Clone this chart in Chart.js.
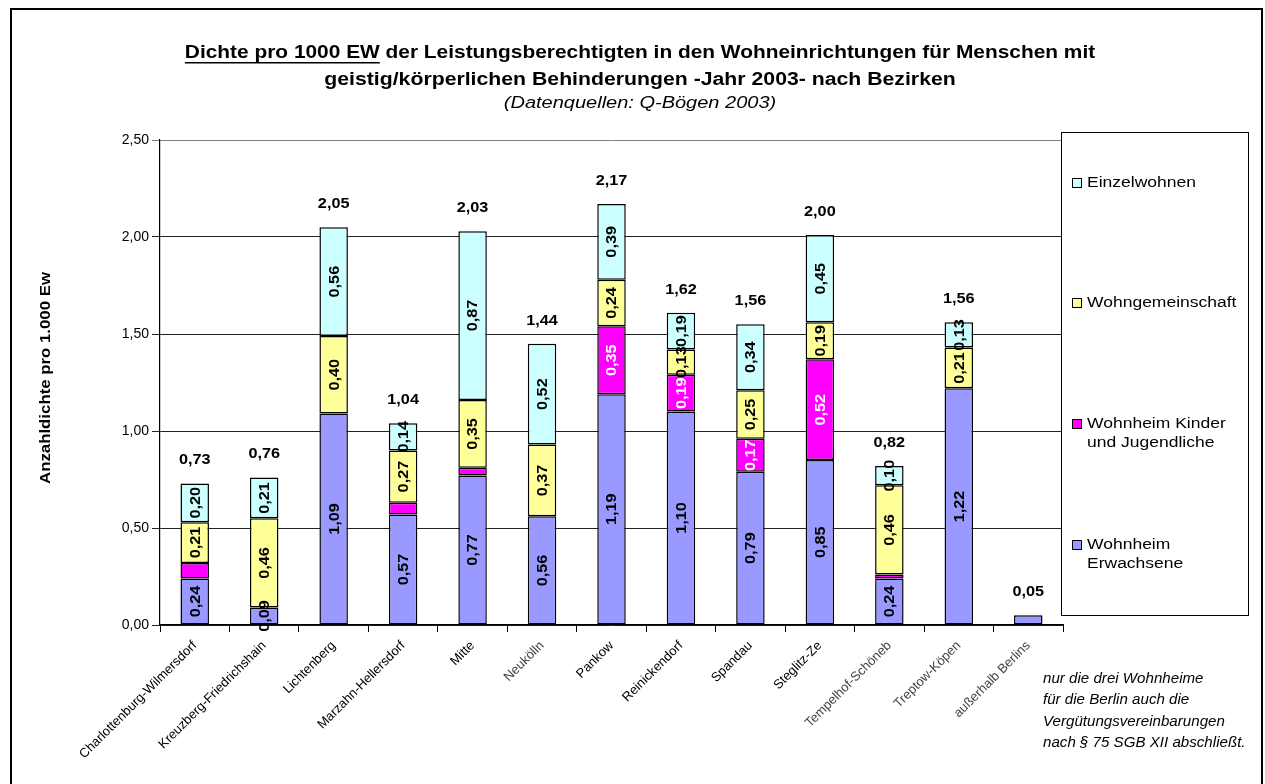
<!DOCTYPE html>
<html>
<head>
<meta charset="utf-8">
<script src="https://cdn.jsdelivr.net/npm/chart.js@4.4.1/dist/chart.umd.min.js"></script>
<style>
  html, body { margin: 0; padding: 0; background: #fff; }
</style>
</head>
<body>
<canvas id="grafik" width="1265" height="784"></canvas>
<script>
// Bezirke (Beschriftungen wie im Original abgeschnitten)
const bezirke = ["Charlottenburg-Wilmersdorf", "Kreuzberg-Friedrichshain", "Lichtenberg", "Marzahn-Hellersdorf",
  "Mitte", "Neukölln", "Pankow", "Reinickendorf", "Spandau", "Steglitz-Ze", "Tempelhof-Schöneb",
  "Treptow-Köpen", "außerhalb Berlins"];
const grauBeschriftet = ["Neukölln", "Tempelhof-Schöneb", "Treptow-Köpen", "außerhalb Berlins"];

// Dichte pro 1000 EW
const erwachsene = [0.24, 0.09, 1.09, 0.57, 0.77, 0.56, 1.19, 1.10, 0.79, 0.85, 0.24, 1.22, 0.05];
const kinder     = [0.08, 0.00, 0.00, 0.06, 0.04, 0.00, 0.35, 0.19, 0.17, 0.52, 0.02, 0.00, 0.00];
const wg         = [0.21, 0.46, 0.40, 0.27, 0.35, 0.37, 0.24, 0.13, 0.25, 0.19, 0.46, 0.21, 0.00];
const einzel     = [0.20, 0.21, 0.56, 0.14, 0.87, 0.52, 0.39, 0.19, 0.34, 0.45, 0.10, 0.13, 0.00];
const gesamt     = [0.73, 0.76, 2.05, 1.04, 2.03, 1.44, 2.17, 1.62, 1.56, 2.00, 0.82, 1.56, 0.05];

const yMin = 0, yMax = 2.5, yStep = 0.5;

const titelZeilen = [
  "der Leistungsberechtigten in den Wohneinrichtungen für Menschen mit",
  "geistig/körperlichen Behinderungen -Jahr 2003- nach Bezirken"
];
const titelUnterstrichen = "Dichte pro 1000 EW";
const quelle = "(Datenquellen: Q-Bögen 2003)";
const yTitel = "Anzahldichte pro 1.000 Ew";
const hinweis = ["nur die drei Wohnheime", "für die Berlin auch die", "Vergütungsvereinbarungen", "nach § 75 SGB XII abschließt."];

const komma = v => v.toFixed(2).replace('.', ',');
const FONT = '"Liberation Sans", Arial, sans-serif';
Chart.defaults.font.family = FONT;
Chart.defaults.color = '#000';

// Text mit horizontaler Streckung (das Original ist breit gezogen)
function text(ctx, s, x, y, sx) {
  ctx.save();
  ctx.translate(x, y);
  ctx.scale(sx, 1);
  ctx.fillText(s, 0, 0);
  ctx.restore();
}

// eigene Beschriftungen, Legende, Titel
const zusatz = {
  id: 'zusatz',
  afterDatasetsDraw(chart) {
    const ctx = chart.ctx;
    const y = chart.scales.y;
    ctx.save();
    ctx.font = 'bold 14px ' + FONT;
    ctx.textAlign = 'center';
    ctx.textBaseline = 'middle';
    // Werte in den Segmenten
    chart.data.datasets.forEach((ds, di) => {
      const meta = chart.getDatasetMeta(di);
      meta.data.forEach((bar, i) => {
        const v = ds.data[i];
        if (v < 0.09) return;
        ctx.save();
        ctx.translate(bar.x + 1, (bar.y + bar.base) / 2);
        ctx.rotate(-Math.PI / 2);
        ctx.fillStyle = di === 1 ? '#fff' : '#000';
        text(ctx, komma(v), 0, 0, 1.16);
        ctx.restore();
      });
    });
    // Summen oben
    ctx.fillStyle = '#000';
    chart.getDatasetMeta(0).data.forEach((bar, i) => {
      const summe = erwachsene[i] + kinder[i] + wg[i] + einzel[i];
      text(ctx, komma(gesamt[i]), bar.x, y.getPixelForValue(summe) - 23, 1.16);
    });
    ctx.restore();
  },
  afterDraw(chart) {
    const ctx = chart.ctx;
    ctx.save();
    // Rahmen
    ctx.strokeStyle = '#000';
    ctx.lineWidth = 2;
    ctx.strokeRect(11, 9, 1251, 790);

    // Titel
    const sT = 1.16;
    ctx.fillStyle = '#000';
    ctx.textBaseline = 'middle';
    ctx.font = 'bold 18px ' + FONT;
    const t1a = titelUnterstrichen, t1b = ' ' + titelZeilen[0];
    const wa = ctx.measureText(t1a).width * sT, wb = ctx.measureText(t1b).width * sT;
    const x0 = 640 - (wa + wb) / 2;
    ctx.textAlign = 'left';
    text(ctx, t1a, x0, 53, sT);
    text(ctx, t1b, x0 + wa, 53, sT);
    ctx.fillRect(x0, 62, wa, 1.5);
    ctx.textAlign = 'center';
    text(ctx, titelZeilen[1], 640, 80, sT + 0.02);
    ctx.font = 'italic 16px ' + FONT;
    text(ctx, quelle, 640, 104, 1.25);

    // Y-Achsentitel
    ctx.save();
    ctx.translate(46, 378);
    ctx.rotate(-Math.PI / 2);
    ctx.font = 'bold 14px ' + FONT;
    text(ctx, yTitel, 0, 0, 1.2);
    ctx.restore();

    // Legende
    const lx = 1061, ly = 132, lw = 187, lh = 483;
    ctx.fillStyle = '#fff';
    ctx.fillRect(lx, ly, lw, lh);
    ctx.strokeStyle = '#000';
    ctx.lineWidth = 1;
    ctx.strokeRect(lx + 0.5, ly + 0.5, lw, lh);
    const eintraege = [
      { ds: 3, zeilen: ['Einzelwohnen'], y: 183 },
      { ds: 2, zeilen: ['Wohngemeinschaft'], y: 303 },
      { ds: 1, zeilen: ['Wohnheim Kinder', 'und Jugendliche'], y: 424 },
      { ds: 0, zeilen: ['Wohnheim', 'Erwachsene'], y: 545 }
    ];
    ctx.font = '14px ' + FONT;
    ctx.textAlign = 'left';
    eintraege.forEach(e => {
      const ds = chart.data.datasets[e.ds];
      ctx.fillStyle = ds.backgroundColor;
      ctx.fillRect(lx + 11, e.y - 5, 10, 10);
      ctx.strokeStyle = '#000';
      ctx.strokeRect(lx + 11.5, e.y - 4.5, 9, 9);
      ctx.fillStyle = '#000';
      e.zeilen.forEach((z, k) => text(ctx, z, lx + 26, e.y + k * 19, 1.25));
    });

    // Hinweis
    ctx.font = 'italic 14px ' + FONT;
    hinweis.forEach((z, k) => text(ctx, z, 1043, 679 + k * 21.5, 1.08));
    ctx.restore();
  }
};

new Chart(document.getElementById('grafik').getContext('2d'), {
  type: 'bar',
  data: {
    labels: bezirke,
    datasets: [
      { label: 'Wohnheim Erwachsene', data: erwachsene, backgroundColor: '#9999FF' },
      { label: 'Wohnheim Kinder und Jugendliche', data: kinder, backgroundColor: '#FF00FF' },
      { label: 'Wohngemeinschaft', data: wg, backgroundColor: '#FFFF99' },
      { label: 'Einzelwohnen', data: einzel, backgroundColor: '#CCFFFF' }
    ]
  },
  options: {
    responsive: false,
    animation: false,
    layout: { padding: { top: 140, right: 202, left: 0, bottom: 0 } },
    datasets: { bar: { borderColor: '#000', borderWidth: 1.5, barPercentage: 0.41, categoryPercentage: 1, borderSkipped: false } },
    plugins: { legend: { display: false }, title: { display: false }, tooltip: { enabled: false } },
    scales: {
      x: {
        stacked: true,
        afterFit: s => { s.height = 159; },
        grid: { display: true, drawOnChartArea: false, color: '#000', tickLength: 7, offset: true },
        border: { color: '#000', width: 1.2 },
        ticks: {
          autoSkip: false, minRotation: 45, maxRotation: 45, padding: 6,
          font: { size: 13 },
          color: c => grauBeschriftet.includes(bezirke[c.index]) ? '#444' : '#000'
        }
      },
      y: {
        stacked: true, min: yMin, max: yMax,
        afterFit: s => { s.width = 160; },
        grid: { color: c => c.tick.value === yMax ? '#808080' : '#222', tickLength: 8, lineWidth: 1 },
        border: { color: '#000', width: 1.2 },
        ticks: { stepSize: yStep, padding: 3, font: { size: 14 }, callback: v => komma(v) }
      }
    }
  },
  plugins: [zusatz]
});
</script>
</body>
</html>
